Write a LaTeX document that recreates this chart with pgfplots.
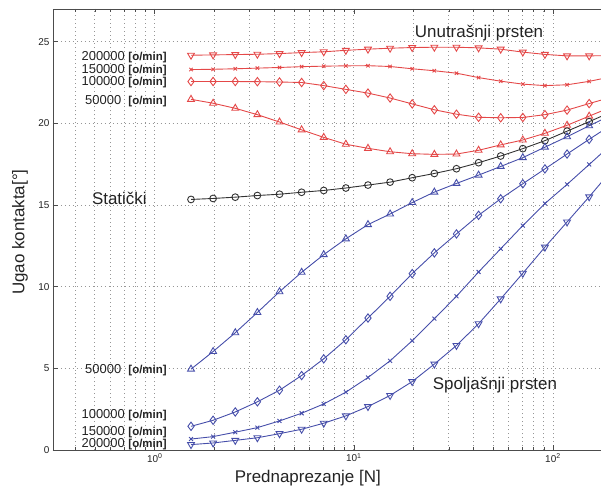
\documentclass[border=0pt]{standalone}
\usepackage{fontspec}
\setmainfont{Liberation Sans}
\usepackage{pgfplots}
\pgfplotsset{compat=1.18}
\usepackage{pgfplotstable}
\definecolor{rl}{RGB}{228,72,72}
\definecolor{bl}{RGB}{70,78,170}
\definecolor{kl}{RGB}{50,50,50}
\definecolor{gridc}{RGB}{150,150,150}
\definecolor{txt}{RGB}{35,35,35}

\pgfplotstableread{
x      r200  r150  r100  r50   st    b50   b100  b150  b200
1.52   24.17 23.29 22.56 21.47 15.34 4.95  1.45  0.67  0.33
1.963  24.19 23.31 22.56 21.23 15.40 6.03  1.82  0.82  0.43
2.536  24.21 23.34 22.56 20.92 15.48 7.18  2.33  1.09  0.59
3.275  24.23 23.38 22.55 20.53 15.58 8.42  2.95  1.37  0.75
4.230  24.27 23.42 22.53 20.08 15.66 9.69  3.66  1.78  1.00
5.463  24.33 23.47 22.50 19.60 15.78 10.88 4.56  2.25  1.27
7.055  24.38 23.50 22.31 19.14 15.89 11.96 5.58  2.82  1.64
9.112  24.47 23.52 22.08 18.72 16.04 12.93 6.75  3.54  2.09
11.77  24.54 23.53 21.85 18.47 16.22 13.80 8.08  4.44  2.66
15.20  24.60 23.48 21.55 18.26 16.40 14.45 9.41  5.46  3.34
19.63  24.64 23.34 21.19 18.14 16.67 15.15 10.80 6.69  4.19
25.36  24.66 23.22 20.83 18.10 16.93 15.79 12.07 8.04  5.26
32.75  24.66 23.07 20.56 18.12 17.22 16.32 13.23 9.41  6.40
42.30  24.62 22.80 20.37 18.35 17.59 16.83 14.37 10.90 7.73
54.63  24.54 22.58 20.34 18.68 18.00 17.36 15.38 12.32 9.25
70.55  24.36 22.40 20.36 18.98 18.45 17.90 16.30 13.74 10.82
91.12  24.22 22.31 20.53 19.39 18.94 18.54 17.21 15.09 12.42
117.7  24.13 22.36 20.81 19.88 19.52 19.18 18.12 16.26 13.96
152.0  24.13 22.57 21.21 20.44 20.10 19.85 19.02 17.48 15.50
196.3  24.15 22.85 21.60 21.00 20.70 20.50 19.90 18.70 17.10
}\data

\begin{document}
\begin{tikzpicture}
\useasboundingbox (-53bp,-47bp) rectangle (548bp,450bp);
\begin{axis}[
  at={(0,0)}, anchor=south west,
  scale only axis, width=548bp, height=441bp,
  xmode=log, xmin=0.308, xmax=174.3, ymin=0, ymax=27,
  axis x line=box, axis y line*=left,
  axis line style={-, line width=0.9pt, color=black!70},
  tick align=inside,
  major tick length=5bp, minor tick length=3bp,
  tick style={color=black!70, line width=0.7pt},
  xtick={1,10,100},
  xticklabels={10\textsuperscript{0},10\textsuperscript{1},10\textsuperscript{2}},
  minor xtick={0.4,0.5,0.6,0.7,0.8,0.9,2,3,4,5,6,7,8,9,20,30,40,50,60,70,80,90},
  ytick={0,5,10,15,20,25},
  /pgf/number format/assume math mode=true,
  tick label style={font=\fontsize{10}{10}\selectfont, text=txt},
  grid=both,
  major grid style={gridc, line width=0.8pt, dash pattern=on 0.8pt off 3.2pt},
  minor grid style={gridc, line width=0.8pt, dash pattern=on 0.8pt off 3.2pt},
  xlabel={Prednaprezanje [N]},
  ylabel={Ugao kontakta[°]},
  xlabel style={at={(axis description cs:0.465,-0.0635)}, anchor=center, font=\fontsize{17}{17}\selectfont, text=txt},
  ylabel style={at={(axis description cs:-0.0602,0.494)}, anchor=center, font=\fontsize{17}{17}\selectfont, text=txt},
]
\addplot[rl, line width=0.9pt, mark=triangle, mark size=4pt, mark options={solid, rotate=180}] table[x=x,y=r200]{\data};
\addplot[rl, line width=0.9pt, mark=x, mark size=2.4pt, mark options={solid}] table[x=x,y=r150]{\data};
\addplot[rl, line width=0.9pt, mark=diamond, mark size=4.2pt, mark options={solid}] table[x=x,y=r100]{\data};
\addplot[rl, line width=0.9pt, mark=triangle, mark size=4pt, mark options={solid}] table[x=x,y=r50]{\data};
\addplot[kl, line width=0.9pt, mark=o, mark size=3.4pt, mark options={solid}] table[x=x,y=st]{\data};
\addplot[bl, line width=0.9pt, mark=triangle, mark size=4pt, mark options={solid}] table[x=x,y=b50]{\data};
\addplot[bl, line width=0.9pt, mark=diamond, mark size=4.2pt, mark options={solid}] table[x=x,y=b100]{\data};
\addplot[bl, line width=0.9pt, mark=x, mark size=2.8pt, mark options={solid}] table[x=x,y=b150]{\data};
\addplot[bl, line width=0.9pt, mark=triangle, mark size=4pt, mark options={solid, rotate=180}] table[x=x,y=b200]{\data};

\tikzset{lab/.style={anchor=east, inner sep=0pt, text=txt}}
\newcommand{\rpm}[1]{\fontsize{13}{13}\selectfont #1 {\bfseries\fontsize{11.5}{12}\selectfont [o/min]}}
\node[lab] at (axis cs:1.149,24.03) {\rpm{200000}};
\node[lab] at (axis cs:1.149,23.27) {\rpm{150000}};
\node[lab] at (axis cs:1.149,22.53) {\rpm{100000}};
\node[lab] at (axis cs:1.149,21.37) {\rpm{50000\ }};
\node[lab] at (axis cs:1.149,4.90) {\rpm{50000\ }};
\node[lab] at (axis cs:1.149,2.14) {\rpm{100000}};
\node[lab] at (axis cs:1.149,1.12) {\rpm{150000}};
\node[lab] at (axis cs:1.149,0.38) {\rpm{200000}};
\node[lab, font=\fontsize{17}{17}\selectfont] at (axis cs:0.912,15.43) {Statički};
\node[anchor=center, inner sep=0pt, text=txt, font=\fontsize{17}{17}\selectfont] at (axis cs:42.5,25.54) {Unutrašnji prsten};
\node[anchor=center, inner sep=0pt, text=txt, font=\fontsize{17}{17}\selectfont] at (axis cs:51.1,3.98) {Spoljašnji prsten};
\end{axis}
\end{tikzpicture}
\end{document}
